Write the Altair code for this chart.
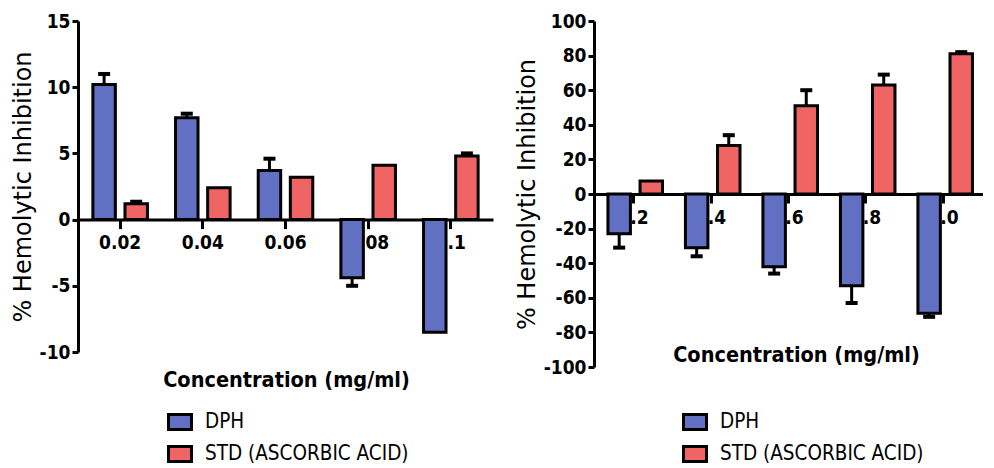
import altair as alt
import pandas as pd

# ---- data ----
series = ["DPH", "STD (ASCORBIC ACID)"]

conc_left = ["0.02", "0.04", "0.06", "0.08", "0.1"]
dph_left = [10.2, 7.7, 3.7, -4.4, -8.5]
dph_left_sd = [0.8, 0.3, 0.9, 0.6, 0.0]
std_left = [1.2, 2.4, 3.2, 4.1, 4.8]
std_left_sd = [0.15, 0.0, 0.0, 0.0, 0.2]
ticks_left = [-10, -5, 0, 5, 10, 15]

conc_right = ["0.2", "0.4", "0.6", "0.8", "1.0"]
dph_right = [-23, -31, -42, -53, -69]
dph_right_sd = [8, 5, 4, 10, 2]
std_right = [7.5, 28, 51, 63, 81]
std_right_sd = [0, 6, 9, 6, 1]
ticks_right = [-100, -80, -60, -40, -20, 0, 20, 40, 60, 80, 100]

BLUE = "#6170c2"
RED = "#f06464"
NARROW = "'Liberation Sans Narrow', 'DejaVu Sans Condensed', 'Liberation Sans', Arial, sans-serif"
TITLE_FONT = "'DejaVu Sans', 'Liberation Sans', Arial, sans-serif"


def make_df(conc, dph, dph_sd, std, std_sd):
    rows = []
    for c, v, s in zip(conc, dph, dph_sd):
        rows.append({"conc": c, "series": series[0], "value": v, "sd": s})
    for c, v, s in zip(conc, std, std_sd):
        rows.append({"conc": c, "series": series[1], "value": v, "sd": s})
    df = pd.DataFrame(rows)
    df["end"] = df["value"] + df["sd"] * df["value"].apply(lambda x: 1 if x >= 0 else -1)
    return df


def panel(df, conc, domain, ticks, W, H, legend_x, legend_y, title_x):
    zero_frac = (domain[1] - 0) / (domain[1] - domain[0])
    axis_offset = -(H - H * zero_frac)
    xaxis = alt.Axis(
        title="Concentration (mg/ml)",
        offset=axis_offset,
        labelAngle=0,
        labelAlign="center",
        labelBaseline="top",
        labelFont=NARROW,
        labelFontWeight="bold",
        labelFontSize=19,
        labelColor="black",
        labelPadding=5,
        tickSize=9,
        tickWidth=3,
        tickColor="black",
        domainWidth=3,
        domainColor="black",
        titleFont=NARROW,
        titleFontWeight="bold",
        titleFontSize=21.5,
        titleColor="black",
        titleBaseline="middle",
        titleY=161,
        titleX=title_x,
    )
    yaxis = alt.Axis(
        values=ticks,
        title="% Hemolytic Inhibition",
        labelOverlap=False,
        labelExpr="'' + datum.value",
        labelFont=NARROW,
        labelFontWeight="bold",
        labelFontSize=19,
        labelColor="black",
        labelPadding=2,
        tickSize=6,
        tickWidth=3,
        tickColor="black",
        domainWidth=3,
        domainColor="black",
        titleFont=TITLE_FONT,
        titleFontWeight="normal",
        titleFontSize=24,
        titleColor="black",
        titlePadding=4,
    )
    x = alt.X("conc:N", sort=conc,
              scale=alt.Scale(paddingInner=0.34, paddingOuter=0.18), axis=xaxis)
    xo = alt.XOffset("series:N", sort=series, scale=alt.Scale(paddingInner=0.3))
    yscale = alt.Scale(domain=domain, nice=False)
    base = alt.Chart(df)
    bars = base.mark_bar(stroke="black", strokeWidth=3).encode(
        x=x,
        xOffset=xo,
        y=alt.Y("value:Q", scale=yscale, axis=yaxis),
        color=alt.Color(
            "series:N",
            sort=series,
            scale=alt.Scale(domain=series, range=[BLUE, RED]),
            legend=alt.Legend(
                title=None,
                orient="none",
                legendX=legend_x,
                legendY=legend_y,
                direction="vertical",
                symbolType="M-1,-0.65H1V0.65H-1Z",
                symbolSize=529,
                symbolStrokeColor="black",
                symbolStrokeWidth=3,
                symbolOpacity=1,
                labelFont=NARROW,
                labelFontSize=20.5,
                labelColor="black",
                labelLimit=0,
                labelOffset=12,
                rowPadding=4,
            ),
        ),
    )
    errdf = base.transform_filter("datum.sd > 0")
    rules = errdf.mark_rule(color="black", strokeWidth=3).encode(
        x=x, xOffset=xo, y=alt.Y("value:Q", scale=yscale, axis=yaxis), y2="end:Q"
    )
    caps = errdf.mark_tick(color="black", thickness=4, size=12, opacity=1).encode(
        x=x, xOffset=xo, y=alt.Y("end:Q", scale=yscale, axis=yaxis)
    )
    return alt.layer(rules, bars, caps).properties(width=W, height=H)


left = panel(make_df(conc_left, dph_left, dph_left_sd, std_left, std_left_sd),
             conc_left, [-10, 15], ticks_left, 415, 331, 89, 388, 208)
right = panel(make_df(conc_right, dph_right, dph_right_sd, std_right, std_right_sd),
              conc_right, [-100, 100], ticks_right, 389, 346, 88, 388, 202)

chart = (
    alt.hconcat(left, right, spacing=22)
    .resolve_scale(color="independent")
    .properties(padding={"left": 3, "top": 4, "right": 0, "bottom": 0})
    .configure_view(stroke=None)
    .configure_axis(grid=False)
)

chart.save("out.html", embed_options={"renderer": "svg", "actions": False})
